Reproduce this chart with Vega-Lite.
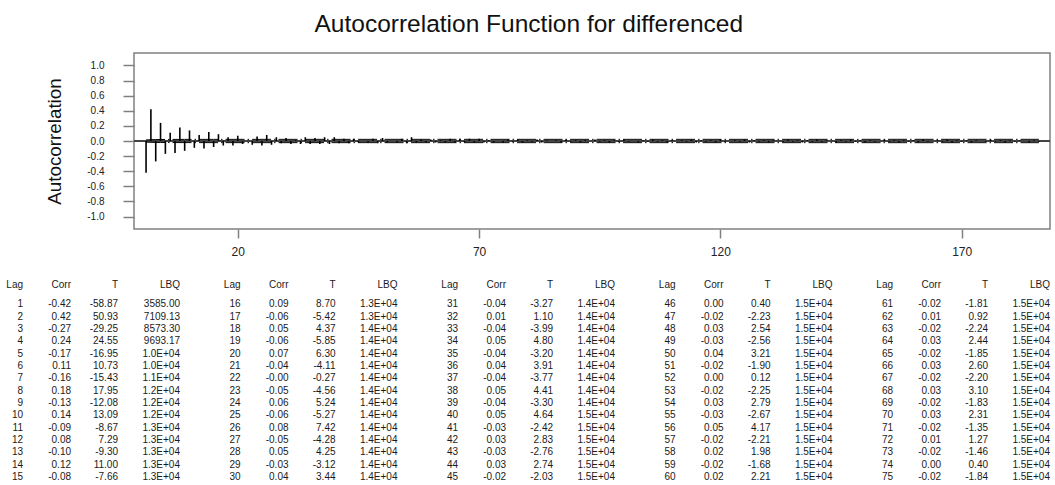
{
  "$schema": "https://vega.github.io/schema/vega-lite/v6.json",
  "padding": {"left": 6, "top": 11, "right": 2, "bottom": 2},
  "background": "white",
  "title": {"text": "Autocorrelation Function for differenced", "font": "Liberation Sans", "fontSize": 24.5, "fontWeight": "normal", "color": "#111111", "anchor": "middle", "offset": 15},
  "config": {"view": {"stroke": "#808080", "strokeWidth": 1.5}, "font": "Liberation Sans"},
  "bounds": "flush",
  "spacing": 43,
  "datasets": {
    "acf": [
      {"lag":1,"corr":"-0.42","t":"-58.87","lbq":"3585.00"},
      {"lag":2,"corr":"0.42","t":"50.93","lbq":"7109.13"},
      {"lag":3,"corr":"-0.27","t":"-29.25","lbq":"8573.30"},
      {"lag":4,"corr":"0.24","t":"24.55","lbq":"9693.17"},
      {"lag":5,"corr":"-0.17","t":"-16.95","lbq":"1.0E+04"},
      {"lag":6,"corr":"0.11","t":"10.73","lbq":"1.0E+04"},
      {"lag":7,"corr":"-0.16","t":"-15.43","lbq":"1.1E+04"},
      {"lag":8,"corr":"0.18","t":"17.95","lbq":"1.2E+04"},
      {"lag":9,"corr":"-0.13","t":"-12.08","lbq":"1.2E+04"},
      {"lag":10,"corr":"0.14","t":"13.09","lbq":"1.2E+04"},
      {"lag":11,"corr":"-0.09","t":"-8.67","lbq":"1.3E+04"},
      {"lag":12,"corr":"0.08","t":"7.29","lbq":"1.3E+04"},
      {"lag":13,"corr":"-0.10","t":"-9.30","lbq":"1.3E+04"},
      {"lag":14,"corr":"0.12","t":"11.00","lbq":"1.3E+04"},
      {"lag":15,"corr":"-0.08","t":"-7.66","lbq":"1.3E+04"},
      {"lag":16,"corr":"0.09","t":"8.70","lbq":"1.3E+04"},
      {"lag":17,"corr":"-0.06","t":"-5.42","lbq":"1.3E+04"},
      {"lag":18,"corr":"0.05","t":"4.37","lbq":"1.4E+04"},
      {"lag":19,"corr":"-0.06","t":"-5.85","lbq":"1.4E+04"},
      {"lag":20,"corr":"0.07","t":"6.30","lbq":"1.4E+04"},
      {"lag":21,"corr":"-0.04","t":"-4.11","lbq":"1.4E+04"},
      {"lag":22,"corr":"-0.00","t":"-0.27","lbq":"1.4E+04"},
      {"lag":23,"corr":"-0.05","t":"-4.56","lbq":"1.4E+04"},
      {"lag":24,"corr":"0.06","t":"5.24","lbq":"1.4E+04"},
      {"lag":25,"corr":"-0.06","t":"-5.27","lbq":"1.4E+04"},
      {"lag":26,"corr":"0.08","t":"7.42","lbq":"1.4E+04"},
      {"lag":27,"corr":"-0.05","t":"-4.28","lbq":"1.4E+04"},
      {"lag":28,"corr":"0.05","t":"4.25","lbq":"1.4E+04"},
      {"lag":29,"corr":"-0.03","t":"-3.12","lbq":"1.4E+04"},
      {"lag":30,"corr":"0.04","t":"3.44","lbq":"1.4E+04"},
      {"lag":31,"corr":"-0.04","t":"-3.27","lbq":"1.4E+04"},
      {"lag":32,"corr":"0.01","t":"1.10","lbq":"1.4E+04"},
      {"lag":33,"corr":"-0.04","t":"-3.99","lbq":"1.4E+04"},
      {"lag":34,"corr":"0.05","t":"4.80","lbq":"1.4E+04"},
      {"lag":35,"corr":"-0.04","t":"-3.20","lbq":"1.4E+04"},
      {"lag":36,"corr":"0.04","t":"3.91","lbq":"1.4E+04"},
      {"lag":37,"corr":"-0.04","t":"-3.77","lbq":"1.4E+04"},
      {"lag":38,"corr":"0.05","t":"4.41","lbq":"1.4E+04"},
      {"lag":39,"corr":"-0.04","t":"-3.30","lbq":"1.4E+04"},
      {"lag":40,"corr":"0.05","t":"4.64","lbq":"1.5E+04"},
      {"lag":41,"corr":"-0.03","t":"-2.42","lbq":"1.5E+04"},
      {"lag":42,"corr":"0.03","t":"2.83","lbq":"1.5E+04"},
      {"lag":43,"corr":"-0.03","t":"-2.76","lbq":"1.5E+04"},
      {"lag":44,"corr":"0.03","t":"2.74","lbq":"1.5E+04"},
      {"lag":45,"corr":"-0.02","t":"-2.03","lbq":"1.5E+04"},
      {"lag":46,"corr":"0.00","t":"0.40","lbq":"1.5E+04"},
      {"lag":47,"corr":"-0.02","t":"-2.23","lbq":"1.5E+04"},
      {"lag":48,"corr":"0.03","t":"2.54","lbq":"1.5E+04"},
      {"lag":49,"corr":"-0.03","t":"-2.56","lbq":"1.5E+04"},
      {"lag":50,"corr":"0.04","t":"3.21","lbq":"1.5E+04"},
      {"lag":51,"corr":"-0.02","t":"-1.90","lbq":"1.5E+04"},
      {"lag":52,"corr":"0.00","t":"0.12","lbq":"1.5E+04"},
      {"lag":53,"corr":"-0.02","t":"-2.25","lbq":"1.5E+04"},
      {"lag":54,"corr":"0.03","t":"2.79","lbq":"1.5E+04"},
      {"lag":55,"corr":"-0.03","t":"-2.67","lbq":"1.5E+04"},
      {"lag":56,"corr":"0.05","t":"4.17","lbq":"1.5E+04"},
      {"lag":57,"corr":"-0.02","t":"-2.21","lbq":"1.5E+04"},
      {"lag":58,"corr":"0.02","t":"1.98","lbq":"1.5E+04"},
      {"lag":59,"corr":"-0.02","t":"-1.68","lbq":"1.5E+04"},
      {"lag":60,"corr":"0.02","t":"2.21","lbq":"1.5E+04"},
      {"lag":61,"corr":"-0.02","t":"-1.81","lbq":"1.5E+04"},
      {"lag":62,"corr":"0.01","t":"0.92","lbq":"1.5E+04"},
      {"lag":63,"corr":"-0.02","t":"-2.24","lbq":"1.5E+04"},
      {"lag":64,"corr":"0.03","t":"2.44","lbq":"1.5E+04"},
      {"lag":65,"corr":"-0.02","t":"-1.85","lbq":"1.5E+04"},
      {"lag":66,"corr":"0.03","t":"2.60","lbq":"1.5E+04"},
      {"lag":67,"corr":"-0.02","t":"-2.20","lbq":"1.5E+04"},
      {"lag":68,"corr":"0.03","t":"3.10","lbq":"1.5E+04"},
      {"lag":69,"corr":"-0.02","t":"-1.83","lbq":"1.5E+04"},
      {"lag":70,"corr":"0.03","t":"2.31","lbq":"1.5E+04"},
      {"lag":71,"corr":"-0.02","t":"-1.35","lbq":"1.5E+04"},
      {"lag":72,"corr":"0.01","t":"1.27","lbq":"1.5E+04"},
      {"lag":73,"corr":"-0.02","t":"-1.46","lbq":"1.5E+04"},
      {"lag":74,"corr":"0.00","t":"0.40","lbq":"1.5E+04"},
      {"lag":75,"corr":"-0.02","t":"-1.84","lbq":"1.5E+04"},
      {"lag":76,"corr":"0.02"},{"lag":77,"corr":"-0.01"},{"lag":78,"corr":"0.02"},{"lag":79,"corr":"-0.02"},{"lag":80,"corr":"0.01"},
      {"lag":81,"corr":"-0.01"},{"lag":82,"corr":"0.02"},{"lag":83,"corr":"-0.02"},{"lag":84,"corr":"0.01"},{"lag":85,"corr":"0.00"},
      {"lag":86,"corr":"0.01"},{"lag":87,"corr":"-0.02"},{"lag":88,"corr":"0.02"},{"lag":89,"corr":"-0.01"},{"lag":90,"corr":"0.01"},
      {"lag":91,"corr":"-0.02"},{"lag":92,"corr":"0.01"},{"lag":93,"corr":"0.00"},{"lag":94,"corr":"0.02"},{"lag":95,"corr":"-0.01"},
      {"lag":96,"corr":"0.01"},{"lag":97,"corr":"-0.02"},{"lag":98,"corr":"0.01"},{"lag":99,"corr":"-0.01"},{"lag":100,"corr":"0.02"},
      {"lag":101,"corr":"-0.01"},{"lag":102,"corr":"0.00"},{"lag":103,"corr":"-0.02"},{"lag":104,"corr":"0.01"},{"lag":105,"corr":"-0.01"},
      {"lag":106,"corr":"0.02"},{"lag":107,"corr":"-0.01"},{"lag":108,"corr":"0.01"},{"lag":109,"corr":"-0.02"},{"lag":110,"corr":"0.01"},
      {"lag":111,"corr":"0.00"},{"lag":112,"corr":"0.01"},{"lag":113,"corr":"-0.01"},{"lag":114,"corr":"0.02"},{"lag":115,"corr":"-0.02"},
      {"lag":116,"corr":"0.01"},{"lag":117,"corr":"-0.01"},{"lag":118,"corr":"0.01"},{"lag":119,"corr":"-0.02"},{"lag":120,"corr":"0.02"},
      {"lag":121,"corr":"-0.01"},{"lag":122,"corr":"0.00"},{"lag":123,"corr":"0.01"},{"lag":124,"corr":"-0.01"},{"lag":125,"corr":"0.02"},
      {"lag":126,"corr":"-0.02"},{"lag":127,"corr":"0.01"},{"lag":128,"corr":"-0.01"},{"lag":129,"corr":"0.01"},{"lag":130,"corr":"-0.02"},
      {"lag":131,"corr":"0.01"},{"lag":132,"corr":"0.00"},{"lag":133,"corr":"-0.01"},{"lag":134,"corr":"0.02"},{"lag":135,"corr":"-0.01"},
      {"lag":136,"corr":"0.01"},{"lag":137,"corr":"-0.02"},{"lag":138,"corr":"0.01"},{"lag":139,"corr":"-0.01"},{"lag":140,"corr":"0.02"},
      {"lag":141,"corr":"-0.01"},{"lag":142,"corr":"0.01"},{"lag":143,"corr":"0.00"},{"lag":144,"corr":"-0.02"},{"lag":145,"corr":"0.01"},
      {"lag":146,"corr":"-0.01"},{"lag":147,"corr":"0.02"},{"lag":148,"corr":"-0.01"},{"lag":149,"corr":"0.01"},{"lag":150,"corr":"-0.02"},
      {"lag":151,"corr":"0.01"},{"lag":152,"corr":"-0.01"},{"lag":153,"corr":"0.00"},{"lag":154,"corr":"0.02"},{"lag":155,"corr":"-0.01"},
      {"lag":156,"corr":"0.01"},{"lag":157,"corr":"-0.02"},{"lag":158,"corr":"0.01"},{"lag":159,"corr":"-0.01"},{"lag":160,"corr":"0.01"},
      {"lag":161,"corr":"-0.02"},{"lag":162,"corr":"0.02"},{"lag":163,"corr":"-0.01"},{"lag":164,"corr":"0.00"},{"lag":165,"corr":"0.01"},
      {"lag":166,"corr":"-0.01"},{"lag":167,"corr":"0.02"},{"lag":168,"corr":"-0.02"},{"lag":169,"corr":"0.01"},{"lag":170,"corr":"-0.01"},
      {"lag":171,"corr":"0.01"},{"lag":172,"corr":"-0.02"},{"lag":173,"corr":"0.01"},{"lag":174,"corr":"0.00"},{"lag":175,"corr":"-0.01"},
      {"lag":176,"corr":"0.02"},{"lag":177,"corr":"-0.01"},{"lag":178,"corr":"0.01"},{"lag":179,"corr":"-0.02"},{"lag":180,"corr":"0.01"},
      {"lag":181,"corr":"-0.01"},{"lag":182,"corr":"0.01"},{"lag":183,"corr":"0.00"},{"lag":184,"corr":"-0.02"},{"lag":185,"corr":"0.01"},
      {"lag":186,"corr":"-0.01"}
    ],
    "limits": [
      {"lag":1,"upper":0.0143,"lower":-0.0143},
      {"lag":2,"upper":0.0175,"lower":-0.0175},
      {"lag":3,"upper":0.019,"lower":-0.019},
      {"lag":4,"upper":0.0199,"lower":-0.0199},
      {"lag":5,"upper":0.0203,"lower":-0.0203},
      {"lag":7,"upper":0.0208,"lower":-0.0208},
      {"lag":9,"upper":0.0212,"lower":-0.0212},
      {"lag":11,"upper":0.0214,"lower":-0.0214},
      {"lag":15,"upper":0.0216,"lower":-0.0216},
      {"lag":30,"upper":0.0219,"lower":-0.0219},
      {"lag":186,"upper":0.0222,"lower":-0.0222}
    ]
  },
  "vconcat": [
    {
      "width": 916,
      "height": 176,
      "layer": [
        {
          "data": {"name": "acf"},
          "mark": {"type": "rule", "color": "#444444", "strokeWidth": 1},
          "encoding": {
            "y": {"datum": 0, "type": "quantitative", "scale": {"domain": [-1.165, 1.165], "nice": false, "zero": false}}
          }
        },
        {
          "data": {"name": "limits"},
          "mark": {"type": "line", "color": "#000000", "strokeWidth": 1, "strokeDash": [19, 3, 1.5, 3]},
          "encoding": {
            "x": {"field": "lag", "type": "quantitative", "scale": {"domain": [-1.5, 188.3], "nice": false, "zero": false}},
            "y": {"field": "upper", "type": "quantitative", "scale": {"domain": [-1.165, 1.165], "nice": false, "zero": false}}
          }
        },
        {
          "data": {"name": "limits"},
          "mark": {"type": "line", "color": "#000000", "strokeWidth": 1, "strokeDash": [19, 3, 1.5, 3]},
          "encoding": {
            "x": {"field": "lag", "type": "quantitative", "scale": {"domain": [-1.5, 188.3], "nice": false, "zero": false}},
            "y": {"field": "lower", "type": "quantitative", "scale": {"domain": [-1.165, 1.165], "nice": false, "zero": false}}
          }
        },
        {
          "data": {"name": "acf"},
          "transform": [{"calculate": "toNumber(datum.corr)", "as": "r"}],
          "mark": {"type": "rule", "color": "#000000", "strokeWidth": 1.6},
          "encoding": {
            "x": {
              "field": "lag", "type": "quantitative",
              "scale": {"domain": [-1.5, 188.3], "nice": false, "zero": false},
              "axis": {"title": null, "values": [20, 70, 120, 170], "tickCount": 30, "domain": false, "grid": false, "tickSize": 9, "tickColor": "#808080", "tickWidth": 1.5, "labelPadding": 8, "labelFont": "Liberation Sans", "labelFontSize": 12, "labelColor": "#222222", "labelOverlap": false}
            },
            "y": {
              "field": "r", "type": "quantitative",
              "scale": {"domain": [-1.165, 1.165], "nice": false, "zero": false},
              "axis": {"title": "Autocorrelation", "values": [-1, -0.8, -0.6, -0.4, -0.2, 0, 0.2, 0.4, 0.6, 0.8, 1], "tickCount": 20, "labelExpr": "replace(format(datum.value, '.1f'), '\u2212', '-')", "labelOverlap": false, "labelBound": false, "domain": false, "grid": false, "tickSize": 11, "tickColor": "#808080", "tickWidth": 1.5, "labelPadding": 19, "labelFont": "Liberation Sans", "labelFontSize": 10, "labelColor": "#222222", "titleFont": "Liberation Sans", "titleFontSize": 18.8, "titleFontWeight": "normal", "titleColor": "#111111", "titlePadding": 22}
            },
            "y2": {"datum": 0}
          }
        }
      ]
    },
    {
      "width": 916,
      "height": 212,
      "view": {"stroke": null},
      "data": {"name": "acf"},
      "transform": [
        {"filter": "datum.lag <= 75"},
        {"calculate": "floor((datum.lag - 1) / 15)", "as": "grp"},
        {"calculate": "(datum.lag - 1) % 15", "as": "row"}
      ],
      "encoding": {
        "x": {"field": "grp", "type": "quantitative", "scale": {"domain": [0.5103, 4.7218], "nice": false, "zero": false}, "axis": null},
        "y": {"field": "row", "type": "quantitative", "scale": {"domain": [-2.617, 14.563], "nice": false, "zero": false, "reverse": true}, "axis": null}
      },
      "layer": [
        {"mark": {"type": "text", "align": "right", "baseline": "middle", "font": "Liberation Sans", "fontSize": 10, "color": "#1a1a1a"}, "encoding": {"text": {"field": "lag", "type": "nominal"}}},
        {"mark": {"type": "text", "align": "right", "baseline": "middle", "font": "Liberation Sans", "fontSize": 10, "color": "#1a1a1a", "dx": 48}, "encoding": {"text": {"field": "corr", "type": "nominal"}}},
        {"mark": {"type": "text", "align": "right", "baseline": "middle", "font": "Liberation Sans", "fontSize": 10, "color": "#1a1a1a", "dx": 95}, "encoding": {"text": {"field": "t", "type": "nominal"}}},
        {"mark": {"type": "text", "align": "right", "baseline": "middle", "font": "Liberation Sans", "fontSize": 10, "color": "#1a1a1a", "dx": 157}, "encoding": {"text": {"field": "lbq", "type": "nominal"}}},
        {"transform": [{"filter": "datum.row == 0"}], "mark": {"type": "text", "text": "Lag", "align": "right", "baseline": "middle", "font": "Liberation Sans", "fontSize": 10, "color": "#1a1a1a"}, "encoding": {"y": {"datum": -1.56}}},
        {"transform": [{"filter": "datum.row == 0"}], "mark": {"type": "text", "text": "Corr", "align": "right", "baseline": "middle", "font": "Liberation Sans", "fontSize": 10, "color": "#1a1a1a", "dx": 48}, "encoding": {"y": {"datum": -1.56}}},
        {"transform": [{"filter": "datum.row == 0"}], "mark": {"type": "text", "text": "T", "align": "right", "baseline": "middle", "font": "Liberation Sans", "fontSize": 10, "color": "#1a1a1a", "dx": 95}, "encoding": {"y": {"datum": -1.56}}},
        {"transform": [{"filter": "datum.row == 0"}], "mark": {"type": "text", "text": "LBQ", "align": "right", "baseline": "middle", "font": "Liberation Sans", "fontSize": 10, "color": "#1a1a1a", "dx": 157}, "encoding": {"y": {"datum": -1.56}}}
      ]
    }
  ]
}
